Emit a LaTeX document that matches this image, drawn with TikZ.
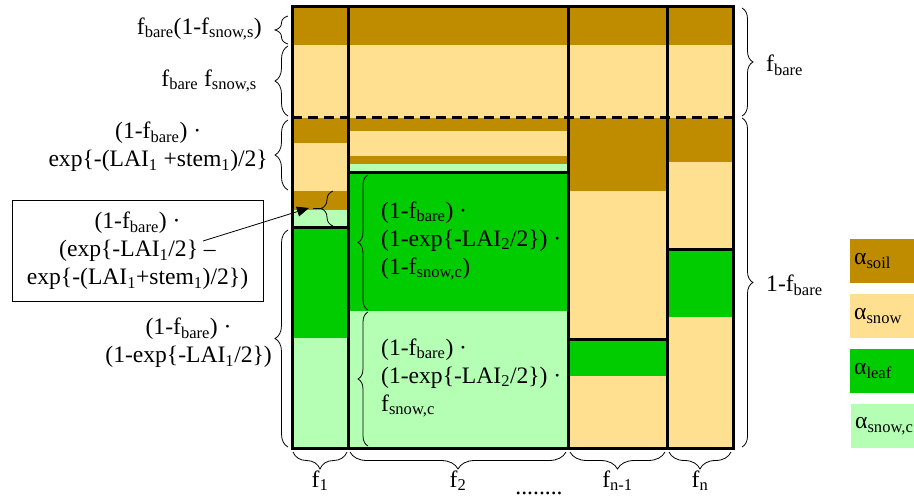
\documentclass[tikz,border=0pt]{standalone}
\usepackage{fontspec}
\setmainfont{Liberation Serif}
\usetikzlibrary{decorations.pathreplacing,arrows.meta}
\definecolor{soil}{RGB}{191,140,0}
\definecolor{snow}{RGB}{255,224,144}
\definecolor{leaf}{RGB}{0,204,0}
\definecolor{snowc}{RGB}{180,255,180}
\newcommand{\fbare}{f\textsubscript{bare}}
\newcommand{\lai}[1]{LAI\textsubscript{#1}}
\begin{document}
\begin{tikzpicture}[x=1pt, y=-1pt,
        font=\fontsize{23.6}{28}\selectfont,
        wall/.style={line width=3pt},
        curly/.style={decorate, decoration={brace, amplitude=#1}, line width=0.8pt},
        curly/.default=13,
        label/.style={inner sep=0pt, align=center},
        key/.style={anchor=north west, minimum height=44pt, inner sep=4pt, text width=56pt, align=left}
    ]
        \useasboundingbox (0,0) rectangle (914,500);
        \foreach \xa/\xb/\ya/\yb/\shade in {
            292/733/7/45/soil, 292/733/45/118/snow,
            292/348/118/143/soil, 292/348/143/191/snow, 292/348/191/210/soil,
            292/348/210/228/snowc, 292/348/228/338/leaf, 292/348/338/448/snowc,
            348/568/118/131/soil, 348/568/131/156/snow, 348/568/156/164/soil,
            348/568/164/173/snowc, 348/568/173/311/leaf, 348/568/311/448/snowc,
            568/667/118/191/soil, 568/667/191/339/snow, 568/667/339/376/leaf, 568/667/376/448/snow,
            667/733/118/162/soil, 667/733/162/250/snow, 667/733/250/317/leaf, 667/733/317/448/snow} {
            \fill[\shade] (\xa,\ya) rectangle (\xb,\yb);
        }
        \foreach \x in {348,568,667} {
            \draw[wall] (\x,7) -- (\x,448);
        }
        \foreach \xa/\xb/\y in {292/348/228, 348/568/173, 568/667/339, 667/733/250} {
            \draw[wall] (\xa,\y) -- (\xb,\y);
        }
        \draw[wall, dash pattern=on 10pt off 6pt] (292,118) -- (733,118);
        \draw[wall] (292,7) rectangle (733,448);

        \draw[curly] (288,44) -- (288,16);
        \draw[curly] (288,116) -- (288,46);
        \draw[curly] (288,190) -- (288,120);
        \draw[curly] (288,447) -- (288,230);
        \node[label, anchor=east] (fbsoil) at (262,29) {\fbare(1-f\textsubscript{snow,s})};
        \node[label, anchor=east] (fbsnow) at (257,81) {\fbare\ f\textsubscript{snow,s}};
        \node[label, anchor=east] (gap1) at (268,147)
            {(1-\fbare) ·\\exp\{-(\lai{1} +stem\textsubscript{1})/2\}};
        \node[label, anchor=east] (leaf1) at (272,343)
            {(1-\fbare) ·\\(1-exp\{-\lai{1}/2\})};

        \node[draw, line width=0.8pt, minimum width=251pt, minimum height=101pt, align=center,
            inner sep=2pt] (stemnote) at (137.5,250.5)
            {(1-\fbare) ·\\(exp\{-\lai{1}/2\} –\\exp\{-(\lai{1}+stem\textsubscript{1})/2\})};
        \draw[curly=12] (333,226) -- (333,191);
        \coordinate (notefrom) at (203,241);
        \coordinate (notetip) at (309,208);
        \coordinate (dashfrom) at (313,208.5);
        \coordinate (stemtip) at (321,208.5);
        \draw[line width=0.8pt, -{Triangle[length=12pt,width=10pt]}] (notefrom) -- (notetip);
        \draw[line width=0.8pt] (dashfrom) -- (stemtip);

        \draw[curly=10] (368,310) -- (368,175);
        \draw[curly=10] (368,446) -- (368,312);
        \node[label, anchor=west, align=left] (leaf2) at (381,241)
            {(1-\fbare) ·\\(1-exp\{-\lai{2}/2\}) ·\\(1-f\textsubscript{snow,c})};
        \node[label, anchor=west, align=left] (snowc2) at (381,378)
            {(1-\fbare) ·\\(1-exp\{-\lai{2}/2\}) ·\\f\textsubscript{snow,c}};

        \draw[curly=11] (742,8) -- (742,116);
        \draw[curly=11] (742,118) -- (742,447);
        \node[label, anchor=west] (bare) at (766,65) {\fbare};
        \node[label, anchor=west] (veg) at (766,285) {1-\fbare};

        \foreach \xa/\xb/\name/\txt in {293/347/f1/1, 350/566/f2/2, 570/665/fm/n-1, 669/731/fn/n} {
            \draw[curly=17] (\xb,452) -- (\xa,452);
            \node[label, anchor=base] (\name) at ({(\xa+\xb)/2},487) {f\textsubscript{\txt}};
        }
        \node[label, anchor=base] (dots) at (539,494) {........};

        \node[key, fill=soil] (ksoil) at (850,239) {α\textsubscript{soil}};
        \node[key, fill=snow] (ksnow) at (850,294) {α\textsubscript{snow}};
        \node[key, fill=leaf] (kleaf) at (850,349) {α\textsubscript{leaf}};
        \node[key, fill=snowc] (ksnowc) at (851,404) {α\textsubscript{snow,c}};
    \end{tikzpicture}
\end{document}
